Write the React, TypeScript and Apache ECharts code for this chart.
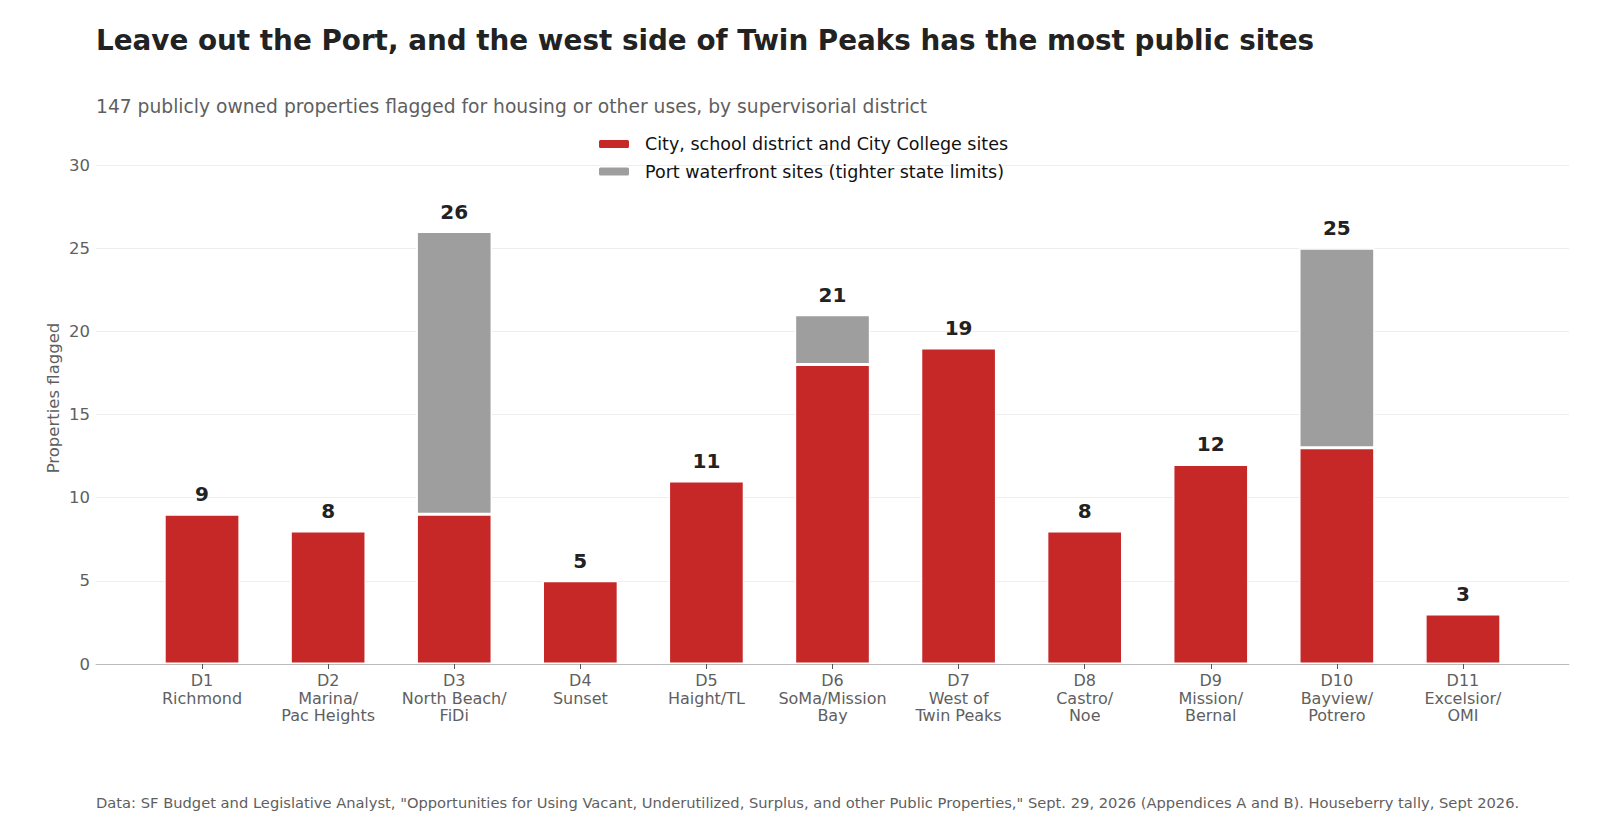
import React, { useEffect, useRef } from "react";
import * as echarts from "echarts";

const distritos = [
  "D1\nRichmond",
  "D2\nMarina/\nPac Heights",
  "D3\nNorth Beach/\nFiDi",
  "D4\nSunset",
  "D5\nHaight/TL",
  "D6\nSoMa/Mission\nBay",
  "D7\nWest of\nTwin Peaks",
  "D8\nCastro/\nNoe",
  "D9\nMission/\nBernal",
  "D10\nBayview/\nPotrero",
  "D11\nExcelsior/\nOMI",
];
const ciudad = [9, 8, 9, 5, 11, 18, 19, 8, 12, 13, 3];
const puerto = [0, 0, 17, 0, 0, 3, 0, 0, 0, 12, 0];
const totales = ciudad.map((v, i) => v + puerto[i]);

const FONT = "DejaVu Sans";

const App: React.FC = () => {
  const chartRef = useRef<HTMLDivElement | null>(null);

  useEffect(() => {
    if (!chartRef.current) return;
    document.body.style.margin = "0";
    const chart = echarts.init(chartRef.current, undefined, { renderer: "svg" });

    // grid 0: marco completo (eje y, rejilla, línea base)
    // grid 1: barras, con margen extra a los lados como en el original
    const option: echarts.EChartsOption = {
      animation: false,
      backgroundColor: "#ffffff",
      textStyle: { fontFamily: FONT },
      title: [
        {
          text: "Leave out the Port, and the west side of Twin Peaks has the most public sites",
          left: 91,
          top: 21,
          textStyle: { fontSize: 27.8, fontWeight: "bold", color: "#222222", fontFamily: FONT },
        },
        {
          text: "147 publicly owned properties flagged for housing or other uses, by supervisorial district",
          left: 91,
          top: 92,
          textStyle: { fontSize: 18.7, fontWeight: "normal", color: "#5f5f5f", fontFamily: FONT },
        },
        {
          text: 'Data: SF Budget and Legislative Analyst, "Opportunities for Using Vacant, Underutilized, Surplus, and other Public Properties," Sept. 29, 2026 (Appendices A and B). Houseberry tally, Sept 2026.',
          left: 91,
          top: 790,
          textStyle: { fontSize: 14.7, fontWeight: "normal", color: "#5f5f5f", fontFamily: FONT },
        },
      ],
      graphic: [
        {
          type: "text",
          x: 53,
          y: 398,
          rotation: Math.PI / 2,
          style: {
            text: "Properties flagged",
            fontSize: 16.5,
            fontFamily: FONT,
            fill: "#5f5f5f",
            align: "center",
            verticalAlign: "middle",
          },
        },
      ],
      legend: {
        orient: "vertical",
        left: 592,
        top: 130,
        itemWidth: 32,
        itemHeight: 10,
        itemGap: 9.5,
        textStyle: { fontSize: 17.5, color: "#111111", fontFamily: FONT, padding: [0, 0, 0, 10] },
        data: ["City, school district and City College sites", "Port waterfront sites (tighter state limits)"],
      },
      grid: [
        { left: 96, right: 31, top: 165, bottom: 155 },
        { left: 139, right: 74, top: 165, bottom: 155 },
      ],
      xAxis: [
        {
          type: "value",
          gridIndex: 0,
          min: 0,
          max: 1,
          axisLine: { show: true, onZero: false, lineStyle: { color: "#bbbbbb" } },
          axisTick: { show: false },
          axisLabel: { show: false },
          splitLine: { show: false },
        },
        {
          type: "category",
          gridIndex: 1,
          data: distritos,
          axisLine: { show: false },
          axisTick: { show: true, alignWithLabel: true, length: 5, lineStyle: { color: "#555555" } },
          axisLabel: { color: "#5f5f5f", fontSize: 16, lineHeight: 17.5, margin: 8, interval: 0 },
        },
      ],
      yAxis: [
        {
          type: "value",
          gridIndex: 0,
          min: 0,
          max: 30,
          interval: 5,
          axisLine: { show: false },
          axisTick: { show: false },
          axisLabel: { color: "#5f5f5f", fontSize: 16.5, margin: 6 },
          splitLine: { lineStyle: { color: "#eeeeee" } },
        },
        {
          type: "value",
          gridIndex: 1,
          min: 0,
          max: 30,
          interval: 5,
          show: false,
          splitLine: { show: false },
        },
      ],
      series: [
        {
          name: "City, school district and City College sites",
          type: "bar",
          stack: "total",
          xAxisIndex: 1,
          yAxisIndex: 1,
          data: ciudad,
          barWidth: "60%",
          itemStyle: { color: "#c62828", borderColor: "#ffffff", borderWidth: 1.5 },
        },
        {
          name: "Port waterfront sites (tighter state limits)",
          type: "bar",
          stack: "total",
          xAxisIndex: 1,
          yAxisIndex: 1,
          data: puerto.map((v) => (v === 0 ? { value: 0, itemStyle: { borderWidth: 0 } } : v)),
          barWidth: "60%",
          itemStyle: { color: "#9e9e9e", borderColor: "#ffffff", borderWidth: 1.5 },
          label: {
            show: true,
            position: "top",
            distance: 10,
            fontSize: 20,
            fontWeight: "bold",
            color: "#222222",
            formatter: (p: any) => String(totales[p.dataIndex]),
          },
        },
      ],
    };

    chart.setOption(option);
    return () => chart.dispose();
  }, []);

  return <div ref={chartRef} style={{ width: "1600px", height: "819px" }} />;
};

export default App;
